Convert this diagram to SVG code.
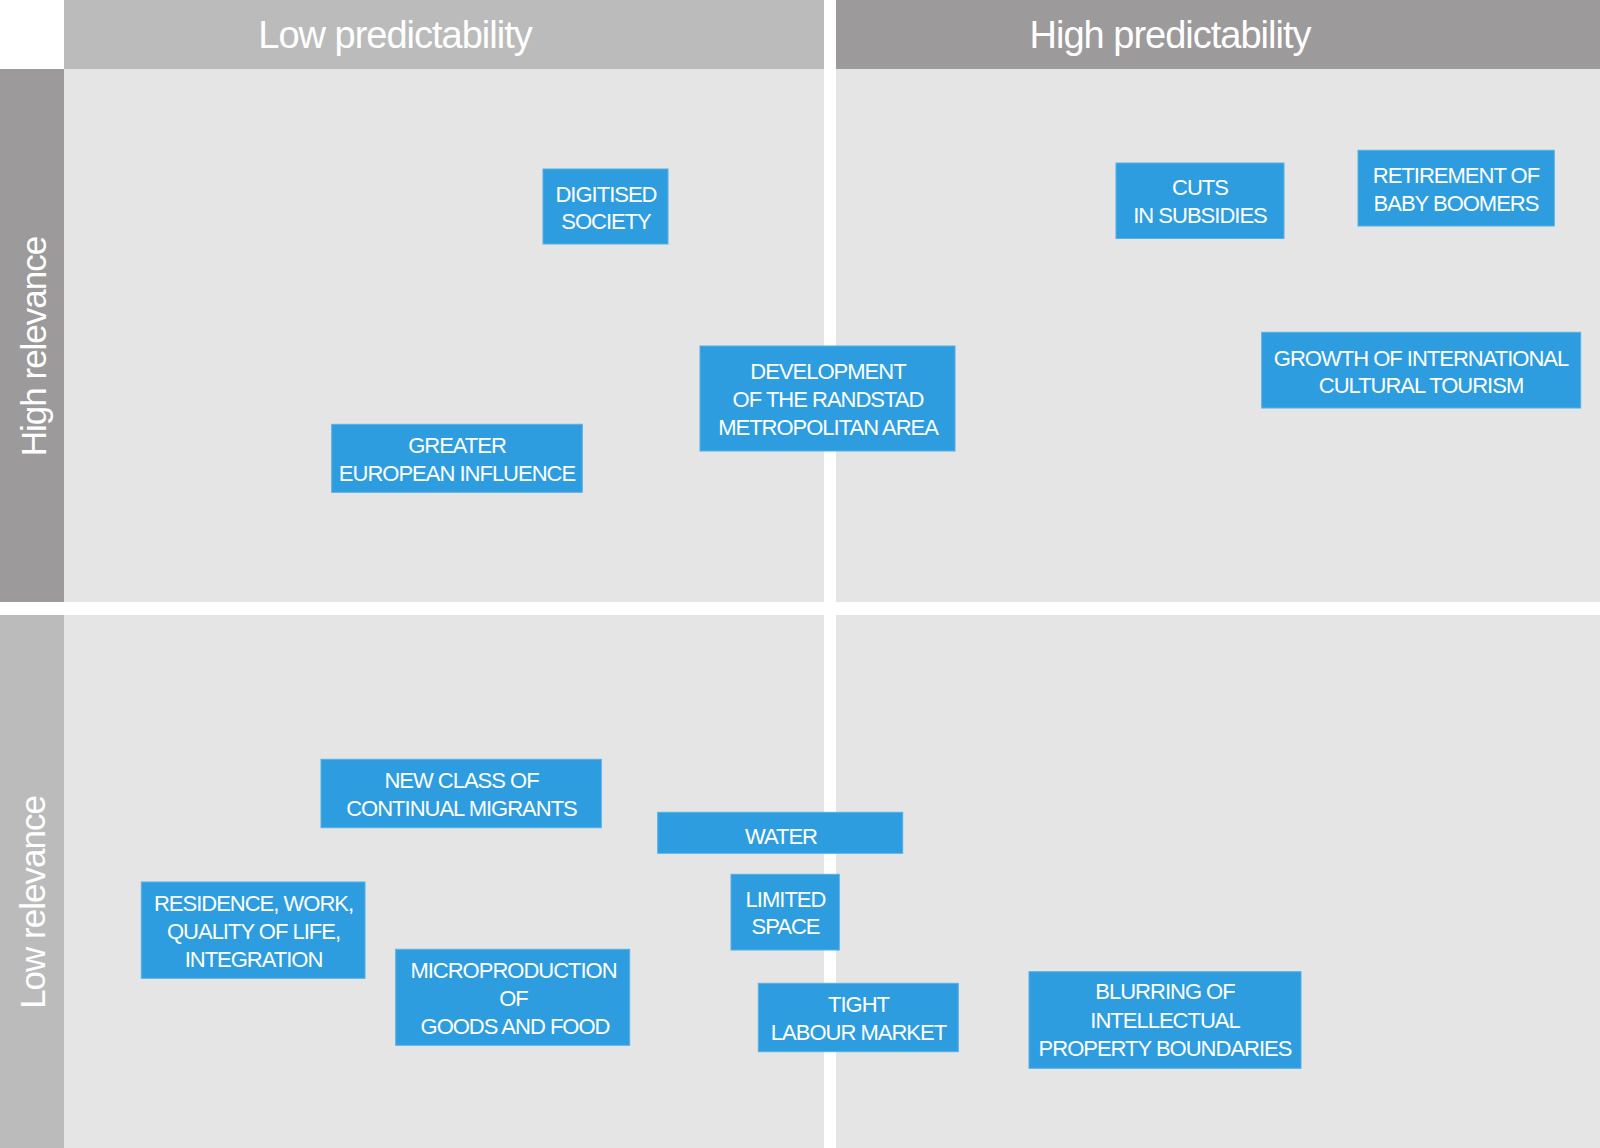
<svg xmlns="http://www.w3.org/2000/svg" width="1600" height="1148" viewBox="0 0 1600 1148">
<style>
.q{fill:#e5e5e5}
.hl{fill:#bbbbbb}
.hh{fill:#9c9a9a}
.ht{font-family:"Liberation Sans",Arial,sans-serif;font-size:38px;fill:#ffffff;text-anchor:middle;letter-spacing:-1px}
.st{font-family:"Liberation Sans",Arial,sans-serif;font-size:35px;fill:#ffffff;text-anchor:middle;letter-spacing:-1px}
.b{fill:#2d9de0;stroke:#55b0e6;stroke-width:1}
.t{font-family:"Liberation Sans",Arial,sans-serif;font-size:22px;fill:#ffffff;text-anchor:middle;letter-spacing:-1px}
</style>
<rect x="0" y="0" width="1600" height="1148" fill="#ffffff"/>
<g id="quadrants">
<rect class="q" x="64" y="69" width="760" height="533"/>
<rect class="q" x="836" y="69" width="764" height="533"/>
<rect class="q" x="64" y="615" width="760" height="533"/>
<rect class="q" x="836" y="615" width="764" height="533"/>
</g>
<g id="header-low">
<rect class="hl" x="64" y="0" width="760" height="69"/>
<text class="ht" x="395" y="47.5">Low predictability</text>
</g>
<g id="header-high">
<rect class="hh" x="836" y="0" width="764" height="69"/>
<text class="ht" x="1170" y="47.5">High predictability</text>
</g>
<g id="side-high">
<rect class="hh" x="0" y="69" width="64" height="533"/>
<text class="st" transform="translate(45.5,346.5) rotate(-90)">High relevance</text>
</g>
<g id="side-low">
<rect class="hl" x="0" y="615" width="64" height="533"/>
<text class="st" transform="translate(44.5,902.5) rotate(-90)">Low relevance</text>
</g>
<g id="connectors"></g>
<g id="digitised-society">
<rect class="b" x="543" y="169" width="125" height="75"/>
<text class="t" x="606" y="201.7">DIGITISED</text>
<text class="t" x="606" y="229.3">SOCIETY</text>
</g>
<g id="randstad">
<rect class="b" x="700" y="346" width="255" height="105"/>
<text class="t" x="828" y="379.3">DEVELOPMENT</text>
<text class="t" x="828" y="407.3">OF THE RANDSTAD</text>
<text class="t" x="828" y="435.3">METROPOLITAN AREA</text>
</g>
<g id="cuts-subsidies">
<rect class="b" x="1116" y="163" width="168" height="75.5"/>
<text class="t" x="1200" y="195">CUTS</text>
<text class="t" x="1200" y="223.3">IN SUBSIDIES</text>
</g>
<g id="baby-boomers">
<rect class="b" x="1358" y="150.3" width="196.3" height="75.7"/>
<text class="t" x="1456" y="183.3">RETIREMENT OF</text>
<text class="t" x="1456" y="211">BABY BOOMERS</text>
</g>
<g id="cultural-tourism">
<rect class="b" x="1261.7" y="332.3" width="319" height="75.7"/>
<text class="t" x="1421" y="365.7">GROWTH OF INTERNATIONAL</text>
<text class="t" x="1421" y="393.3">CULTURAL TOURISM</text>
</g>
<g id="european-influence">
<rect class="b" x="331.7" y="424.3" width="250.6" height="68"/>
<text class="t" x="457" y="452.7">GREATER</text>
<text class="t" x="457" y="481">EUROPEAN INFLUENCE</text>
</g>
<g id="continual-migrants">
<rect class="b" x="321" y="759.3" width="280.3" height="68.4"/>
<text class="t" x="461.5" y="788.3">NEW CLASS OF</text>
<text class="t" x="461.5" y="816">CONTINUAL MIGRANTS</text>
</g>
<g id="residence-work">
<rect class="b" x="141.3" y="882" width="223.7" height="96.3"/>
<text class="t" x="253.5" y="910.7">RESIDENCE, WORK,</text>
<text class="t" x="253.5" y="939">QUALITY OF LIFE,</text>
<text class="t" x="253.5" y="966.7">INTEGRATION</text>
</g>
<g id="microproduction">
<rect class="b" x="395.7" y="949.3" width="234" height="96"/>
<text class="t" x="513.5" y="978.3">MICROPRODUCTION</text>
<text class="t" x="513.5" y="1006">OF</text>
<text class="t" x="515" y="1034">GOODS AND FOOD</text>
</g>
<g id="water">
<rect class="b" x="657.7" y="812.3" width="245" height="41"/>
<text class="t" x="781" y="844">WATER</text>
</g>
<g id="limited-space">
<rect class="b" x="731" y="874.3" width="108.3" height="75.7"/>
<text class="t" x="785.5" y="906.7">LIMITED</text>
<text class="t" x="785.5" y="934.3">SPACE</text>
</g>
<g id="labour-market">
<rect class="b" x="758.3" y="983.3" width="200" height="68.4"/>
<text class="t" x="858.5" y="1012.3">TIGHT</text>
<text class="t" x="858.5" y="1040">LABOUR MARKET</text>
</g>
<g id="intellectual-property">
<rect class="b" x="1029" y="971.7" width="272" height="96.6"/>
<text class="t" x="1165" y="999.3">BLURRING OF</text>
<text class="t" x="1165" y="1027.7">INTELLECTUAL</text>
<text class="t" x="1165" y="1055.7">PROPERTY BOUNDARIES</text>
</g>
</svg>
